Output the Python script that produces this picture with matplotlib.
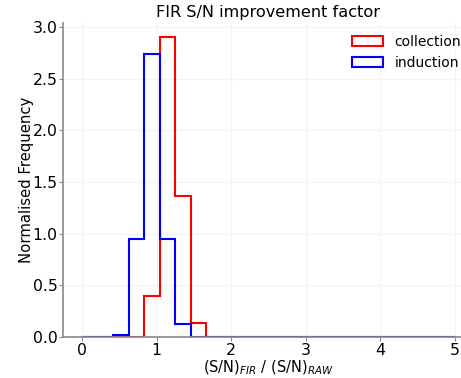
import matplotlib
matplotlib.use("Agg")
import matplotlib.pyplot as plt
import numpy as np

# histogram bins: 24 equal bins from 0 to 5
bin_edges = np.linspace(0, 5, 25)

# normalised frequency per bin
collection = [0, 0, 0, 0, 0.40, 2.90, 1.36, 0.135, 0, 0, 0, 0,
              0, 0, 0, 0, 0, 0, 0, 0, 0, 0, 0, 0]
induction = [0, 0, 0.016, 0.95, 2.74, 0.95, 0.13, 0, 0, 0, 0, 0,
             0, 0, 0, 0, 0, 0, 0, 0, 0, 0, 0, 0]

fig = plt.figure(figsize=(4.61, 3.78), dpi=100)
# the reference is cut at the right edge, so the axes run past the figure
ax = fig.add_axes([0.1373, 0.1085, 0.8902, 0.8315])

centres = 0.5 * (bin_edges[:-1] + bin_edges[1:])
ax.hist(centres, bins=bin_edges, weights=collection, histtype="step",
        color="red", linewidth=1.5, label="collection")
ax.hist(centres, bins=bin_edges, weights=induction, histtype="step",
        color="blue", linewidth=1.5, label="induction")

ax.set_xlim(-0.25, 5.25)
ax.set_ylim(0, 3.04)
ax.set_yticks(np.arange(0, 3.01, 0.5))
ax.set_xticks(range(0, 6))

ax.grid(True, color="#f3f3f3", linewidth=0.8)
ax.set_axisbelow(True)
for side in ["top", "right"]:
    ax.spines[side].set_visible(False)
for side in ["left", "bottom"]:
    ax.spines[side].set_color("#888888")
    ax.spines[side].set_linewidth(1.2)
ax.tick_params(colors="#888888", labelcolor="black", labelsize=11.3,
               length=3, pad=1.2)

ax.set_title("FIR S/N improvement factor", fontsize=11.6, pad=4)
ax.set_xlabel(r"(S/N)$_{FIR}$ / (S/N)$_{RAW}$", fontsize=10.5, labelpad=0.5)
ax.set_ylabel("Normalised Frequency", fontsize=10.7, labelpad=-1)
ax.legend(loc="upper right", frameon=False, fontsize=10,
          handlelength=2.2, handletextpad=0.85)

fig.savefig("out.png", dpi=100)
